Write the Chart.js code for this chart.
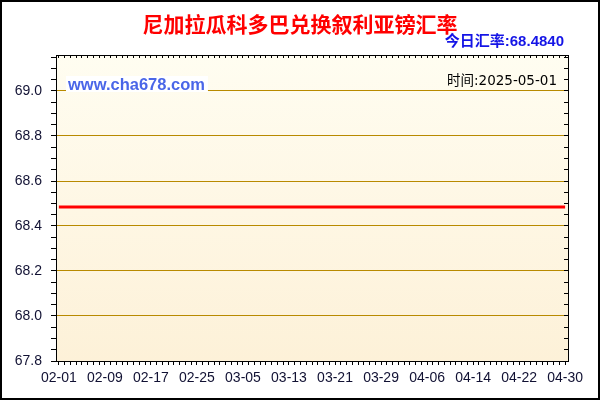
<!DOCTYPE html>
<html>
<head>
<meta charset="utf-8">
<script src="https://cdn.jsdelivr.net/npm/chart.js@4"></script>
<style>
html,body{margin:0;padding:0;background:#fff;}
#wrap{width:600px;height:400px;position:relative;}
</style>
</head>
<body>
<div id="wrap"><canvas id="c" width="600" height="400"></canvas></div>
<script>
const titleText = '尼加拉瓜科多巴兑换叙利亚镑汇率';
const rateText = '今日汇率:68.4840';
const siteText = 'www.cha678.com';
const timeText = '时间:2025-05-01';

const dates = [
'02-01','02-02','02-03','02-04','02-05','02-06','02-07','02-08','02-09','02-10',
'02-11','02-12','02-13','02-14','02-15','02-16','02-17','02-18','02-19','02-20',
'02-21','02-22','02-23','02-24','02-25','02-26','02-27','02-28',
'03-01','03-02','03-03','03-04','03-05','03-06','03-07','03-08','03-09','03-10',
'03-11','03-12','03-13','03-14','03-15','03-16','03-17','03-18','03-19','03-20',
'03-21','03-22','03-23','03-24','03-25','03-26','03-27','03-28','03-29','03-30','03-31',
'04-01','04-02','04-03','04-04','04-05','04-06','04-07','04-08','04-09','04-10',
'04-11','04-12','04-13','04-14','04-15','04-16','04-17','04-18','04-19','04-20',
'04-21','04-22','04-23','04-24','04-25','04-26','04-27','04-28','04-29','04-30'
];

const rates = [
68.484,68.484,68.484,68.484,68.484,68.484,68.484,68.484,68.484,68.484,
68.484,68.484,68.484,68.484,68.484,68.484,68.484,68.484,68.484,68.484,
68.484,68.484,68.484,68.484,68.484,68.484,68.484,68.484,
68.484,68.484,68.484,68.484,68.484,68.484,68.484,68.484,68.484,68.484,
68.484,68.484,68.484,68.484,68.484,68.484,68.484,68.484,68.484,68.484,
68.484,68.484,68.484,68.484,68.484,68.484,68.484,68.484,68.484,68.484,68.484,
68.484,68.484,68.484,68.484,68.484,68.484,68.484,68.484,68.484,68.484,
68.484,68.484,68.484,68.484,68.484,68.484,68.484,68.484,68.484,68.484,
68.484,68.484,68.484,68.484,68.484,68.484,68.484,68.484,68.484,68.484
];

const labelEvery = 8;
const yMin = 67.8;
const yMax = 69.16;
const yMinorStep = 0.05;
const yMajorStep = 0.2;

function isMajorY(v){ const q = (v - yMin)/yMajorStep; return Math.abs(q - Math.round(q)) < 1e-6; }
function xTicks(scale){ scale.ticks = dates.map((d,i)=>({value:i})); }
function yTicks(scale){
  const t = [];
  const n = Math.floor((yMax - yMin)/yMinorStep + 1e-6);
  for(let i=0;i<=n;i++) t.push({value: +(yMin + i*yMinorStep).toFixed(4)});
  scale.ticks = t;
}

const bgPlugin = {
  id:'bg',
  beforeDraw(chart){
    const {ctx, chartArea:a} = chart;
    ctx.save();
    ctx.fillStyle = '#fff';
    ctx.fillRect(0,0,chart.width,chart.height);
    const g = ctx.createLinearGradient(0,a.top,0,a.bottom);
    g.addColorStop(0,'#fffdf1');
    g.addColorStop(1,'#fdf1d8');
    ctx.fillStyle = g;
    ctx.fillRect(a.left,a.top,a.right-a.left,a.bottom-a.top);
    ctx.restore();
  },
  afterDatasetsDraw(chart){
    const ctx = chart.ctx;
    ctx.save();
    ctx.font = 'bold 16.5px "Liberation Sans", Arial, sans-serif';
    const w = ctx.measureText(siteText).width;
    ctx.fillStyle = '#ffffff';
    ctx.fillRect(66, 76, w + 5, 16);
    ctx.fillStyle = '#4a66e8';
    ctx.textBaseline = 'middle';
    ctx.textAlign = 'left';
    ctx.fillText(siteText, 68, 85);
    ctx.font = '13.5px "DejaVu Sans", "Noto Sans CJK SC", sans-serif';
    ctx.fillStyle = '#000';
    ctx.textAlign = 'right';
    ctx.fillText(timeText, 557, 81);
    ctx.restore();
  },
  afterDraw(chart){
    const ctx = chart.ctx;
    ctx.save();
    ctx.textBaseline = 'middle';
    ctx.textAlign = 'center';
    ctx.font = 'bold 21px "Noto Sans CJK SC", sans-serif';
    ctx.fillStyle = '#ff0000';
    ctx.fillText(titleText, 300, 24);
    ctx.textAlign = 'right';
    ctx.font = 'bold 15px "Liberation Sans", "Noto Sans CJK SC", sans-serif';
    ctx.fillStyle = '#1414e6';
    ctx.fillText(rateText, 564, 42);
    ctx.strokeStyle = '#000';
    ctx.lineWidth = 2;
    ctx.strokeRect(1,1,chart.width-2,chart.height-2);
    ctx.restore();
  }
};

new Chart(document.getElementById('c'), {
  type:'line',
  data:{
    datasets:[{
      data: rates.map((v,i)=>({x:i, y:v})),
      borderColor:'#ff0000',
      borderWidth:3,
      pointRadius:0,
      tension:0,
      fill:false
    }]
  },
  options:{
    responsive:false,
    animation:false,
    devicePixelRatio:1,
    layout:{padding:0},
    plugins:{legend:{display:false}, tooltip:{enabled:false}, title:{display:false}},
    scales:{
      x:{
        type:'linear', position:'bottom', min:-0.5, max:88.5,
        afterBuildTicks: xTicks,
        afterFit(s){ s.height = 39; },
        grid:{drawOnChartArea:false, tickLength:4, tickColor:'#000', color:'#000'},
        border:{color:'#000', width:1},
        ticks:{
          autoSkip:false, maxRotation:0, minRotation:0, padding:5,
          color:'#111133',
          font:{family:'"Liberation Sans", Arial, sans-serif', size:14},
          callback:(v)=> (v % labelEvery === 0) ? dates[v] : ''
        }
      },
      xTop:{
        type:'linear', position:'top', min:-0.5, max:88.5,
        afterBuildTicks: xTicks,
        afterFit(s){ s.height = 55; },
        grid:{drawOnChartArea:false, tickLength:-3, tickColor:'#000', color:'#000'},
        border:{color:'#000', width:1},
        ticks:{display:false}
      },
      y:{
        type:'linear', position:'left', min:yMin, max:yMax,
        afterBuildTicks: yTicks,
        afterFit(s){ s.width = 56; },
        grid:{
          drawOnChartArea:true, tickLength:5, tickColor:'#000',
          color:(c)=> (c.tick && isMajorY(c.tick.value)) ? '#b88a00' : 'rgba(0,0,0,0)',
          lineWidth:1
        },
        border:{color:'#000', width:1},
        ticks:{
          autoSkip:false, padding:9, color:'#111133',
          font:{family:'"Liberation Sans", Arial, sans-serif', size:14},
          callback:(v)=> isMajorY(v) ? v.toFixed(1) : ''
        }
      },
      yRight:{
        type:'linear', position:'right', min:yMin, max:yMax,
        afterBuildTicks: yTicks,
        afterFit(s){ s.width = 32; },
        grid:{drawOnChartArea:false, tickLength:-4, tickColor:'#000', color:'#000'},
        border:{color:'#000', width:1},
        ticks:{display:false}
      }
    }
  },
  plugins:[bgPlugin]
});
</script>
</body>
</html>
